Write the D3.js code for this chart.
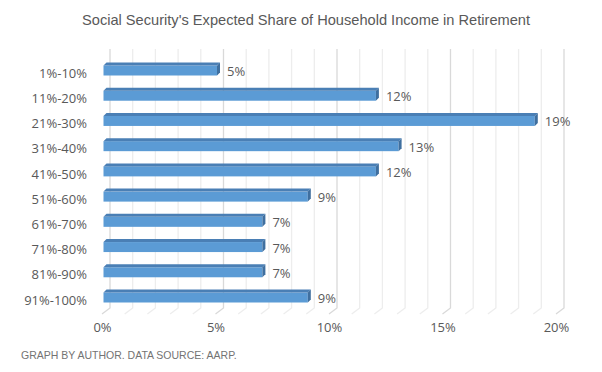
<!DOCTYPE html>
<html>
<head>
<meta charset="utf-8">
<script src="https://cdn.jsdelivr.net/npm/d3@7"></script>
<style>
  body { margin: 0; background: #fff; }
  svg { display: block; }
</style>
</head>
<body>
<svg id="chart" width="602" height="372"></svg>
<script>
/* 3D-style horizontal bar chart, Excel look */
const categories = ['1%-10%', '11%-20%', '21%-30%', '31%-40%', '41%-50%',
    '51%-60%', '61%-70%', '71%-80%', '81%-90%', '91%-100%']
const values = [5, 12, 19, 13, 12, 9, 7, 7, 7, 9]
const tickValues = [0, 5, 10, 15, 20]

const depthX = 8, depthY = 6     // back wall offset
const barDepth = 3                // bar top/side thickness
const barH = 10
const wallTop = 49, floorBack = 308

const svg = d3.select('#chart')

const x = d3.scaleLinear()
    .domain([0, 20])
    .range([102, 556])

const y = d3.scalePoint()
    .domain(categories)
    .range([70.5, 297.5])

// back wall gridlines (every 1%, darker every 5%)
const grid = svg.append('g').attr('class', 'grid')
d3.range(0, 21).forEach(v => {
    const major = v % 5 === 0
    const xb = x(v) + depthX
    grid.append('path')
        .attr('d', `M${xb},${wallTop}V${floorBack}L${x(v)},${floorBack + depthY}`)
        .attr('fill', 'none')
        .attr('stroke', major ? '#d9d9d9' : '#ededed')
        .attr('stroke-width', 1.3)
})

// bars
const bars = svg.append('g').attr('class', 'bars')
const x0 = x(0) + 1.5
categories.forEach((c, i) => {
    const x1 = x0 + (x(values[i]) - x(0))
    const top = y(c) - barH / 2
    const bot = y(c) + barH / 2
    const d = barDepth
    bars.append('rect')
        .attr('x', x0).attr('y', top)
        .attr('width', x1 - x0).attr('height', barH)
        .attr('fill', '#5b9bd5')
    bars.append('polygon')
        .attr('points', [[x0, top], [x0 + d, top - d], [x1 + d, top - d], [x1, top]].join(' '))
        .attr('fill', '#4a7fb5')
    bars.append('polygon')
        .attr('points', [[x1, top], [x1 + d, top - d], [x1 + d, bot - d], [x1, bot]].join(' '))
        .attr('fill', '#3f6f9f')
    bars.append('text')
        .attr('x', x1 + d + 7)
        .attr('y', y(c) + 1)
        .attr('dy', '0.35em')
        .attr('font-family', 'Open Sans')
        .attr('font-size', 13)
        .attr('fill', '#595959')
        .text(values[i] + '%')
})

// category labels
const yAxis = d3.axisLeft(y).tickSize(0).tickPadding(0)
svg.append('g')
    .attr('transform', 'translate(87,2.5)')
    .call(yAxis)
    .call(g => g.select('.domain').remove())
    .selectAll('text')
    .attr('font-family', 'Open Sans')
    .attr('font-size', 13)
    .attr('fill', '#595959')

// x axis labels
const xAxis = d3.axisBottom(x)
    .tickValues(tickValues)
    .tickSize(0)
    .tickPadding(0)
    .tickFormat(d => d + '%')
svg.append('g')
    .attr('transform', 'translate(0,323)')
    .call(xAxis)
    .call(g => g.select('.domain').remove())
    .selectAll('text')
    .attr('font-family', 'Open Sans')
    .attr('font-size', 13)
    .attr('fill', '#595959')

svg.append('text')
    .attr('x', 306)
    .attr('y', 25)
    .attr('text-anchor', 'middle')
    .attr('font-family', 'Liberation Sans')
    .attr('font-size', 15)
    .attr('textLength', 448)
    .attr('lengthAdjust', 'spacingAndGlyphs')
    .attr('fill', '#595959')
    .text("Social Security's Expected Share of Household Income in Retirement")

svg.append('text')
    .attr('x', 21)
    .attr('y', 359)
    .attr('font-family', 'Liberation Sans')
    .attr('font-size', 10.5)
    .attr('fill', '#737373')
    .text('GRAPH BY AUTHOR. DATA SOURCE: AARP.')
</script>
</body>
</html>
